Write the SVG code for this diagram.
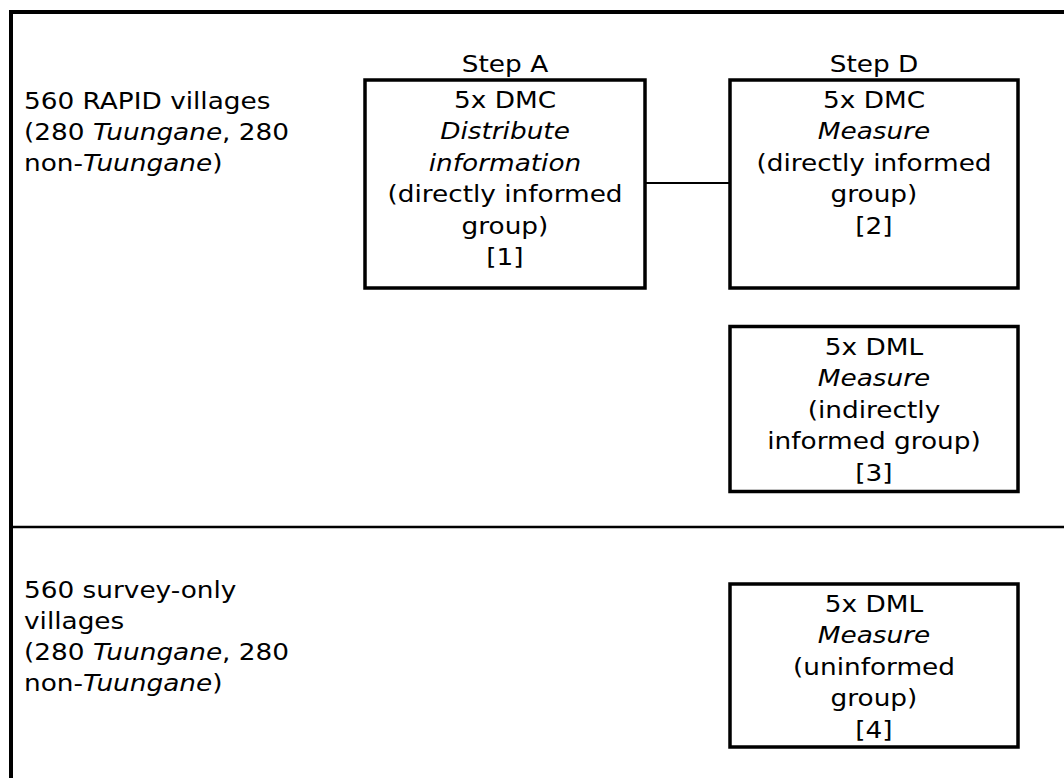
<svg xmlns="http://www.w3.org/2000/svg" width="1064" height="778" viewBox="0 0 1064 778">
<style>
.t{font-family:"DejaVu Sans",Verdana,sans-serif;font-size:23px;fill:#000}
.m{text-anchor:middle}
.i{font-style:italic}
.box{fill:#fff;stroke:#000;stroke-width:3.5}
.frame{fill:none;stroke:#000;stroke-width:4}
.div{stroke:#000;stroke-width:2.5}
.conn{stroke:#000;stroke-width:2}
</style>
<rect width="1064" height="778" fill="#fff"/>
<g id="frame">
<path class="frame" d="M11 778 V12 H1064"/>
<line class="div" x1="11" y1="527" x2="1064" y2="527"/>
</g>
<g id="label-rapid">
<text class="t" transform="scale(1.145 1)"><tspan x="20.96" y="109">560 RAPID villages</tspan><tspan x="20.96" y="140">(280 <tspan class="i">Tuungane</tspan>, 280</tspan><tspan x="20.96" y="171">non-<tspan class="i">Tuungane</tspan>)</tspan></text>
</g>
<g id="label-survey">
<text class="t" transform="scale(1.145 1)"><tspan x="20.96" y="598">560 survey-only</tspan><tspan x="20.96" y="629">villages</tspan><tspan x="20.96" y="660">(280 <tspan class="i">Tuungane</tspan>, 280</tspan><tspan x="20.96" y="691">non-<tspan class="i">Tuungane</tspan>)</tspan></text>
</g>
<g id="connectors">
<line class="conn" x1="645" y1="183" x2="730" y2="183"/>
</g>
<g id="node-1">
<text class="t m" transform="scale(1.145 1)" x="441.05" y="72">Step A</text>
<rect class="box" x="365" y="80" width="280" height="208"/>
<text class="t m" transform="scale(1.145 1)"><tspan x="441.05" y="108">5x DMC</tspan><tspan class="i" x="441.05" y="139.5">Distribute</tspan><tspan class="i" x="441.05" y="171">information</tspan><tspan x="441.05" y="202.5">(directly informed</tspan><tspan x="441.05" y="234">group)</tspan><tspan x="441.05" y="265.5">[1]</tspan></text>
</g>
<g id="node-2">
<text class="t m" transform="scale(1.145 1)" x="763.32" y="72">Step D</text>
<rect class="box" x="730" y="80" width="288" height="208"/>
<text class="t m" transform="scale(1.145 1)"><tspan x="763.32" y="108">5x DMC</tspan><tspan class="i" x="763.32" y="139.5">Measure</tspan><tspan x="763.32" y="171">(directly informed</tspan><tspan x="763.32" y="202.5">group)</tspan><tspan x="763.32" y="234">[2]</tspan></text>
</g>
<g id="node-3">
<rect class="box" x="730" y="326.5" width="288" height="165"/>
<text class="t m" transform="scale(1.145 1)"><tspan x="763.32" y="355">5x DML</tspan><tspan class="i" x="763.32" y="386.5">Measure</tspan><tspan x="763.32" y="418">(indirectly</tspan><tspan x="763.32" y="449.5">informed group)</tspan><tspan x="763.32" y="481">[3]</tspan></text>
</g>
<g id="node-4">
<rect class="box" x="730" y="584" width="288" height="163"/>
<text class="t m" transform="scale(1.145 1)"><tspan x="763.32" y="612">5x DML</tspan><tspan class="i" x="763.32" y="643.5">Measure</tspan><tspan x="763.32" y="675">(uninformed</tspan><tspan x="763.32" y="706.5">group)</tspan><tspan x="763.32" y="738">[4]</tspan></text>
</g>
</svg>
